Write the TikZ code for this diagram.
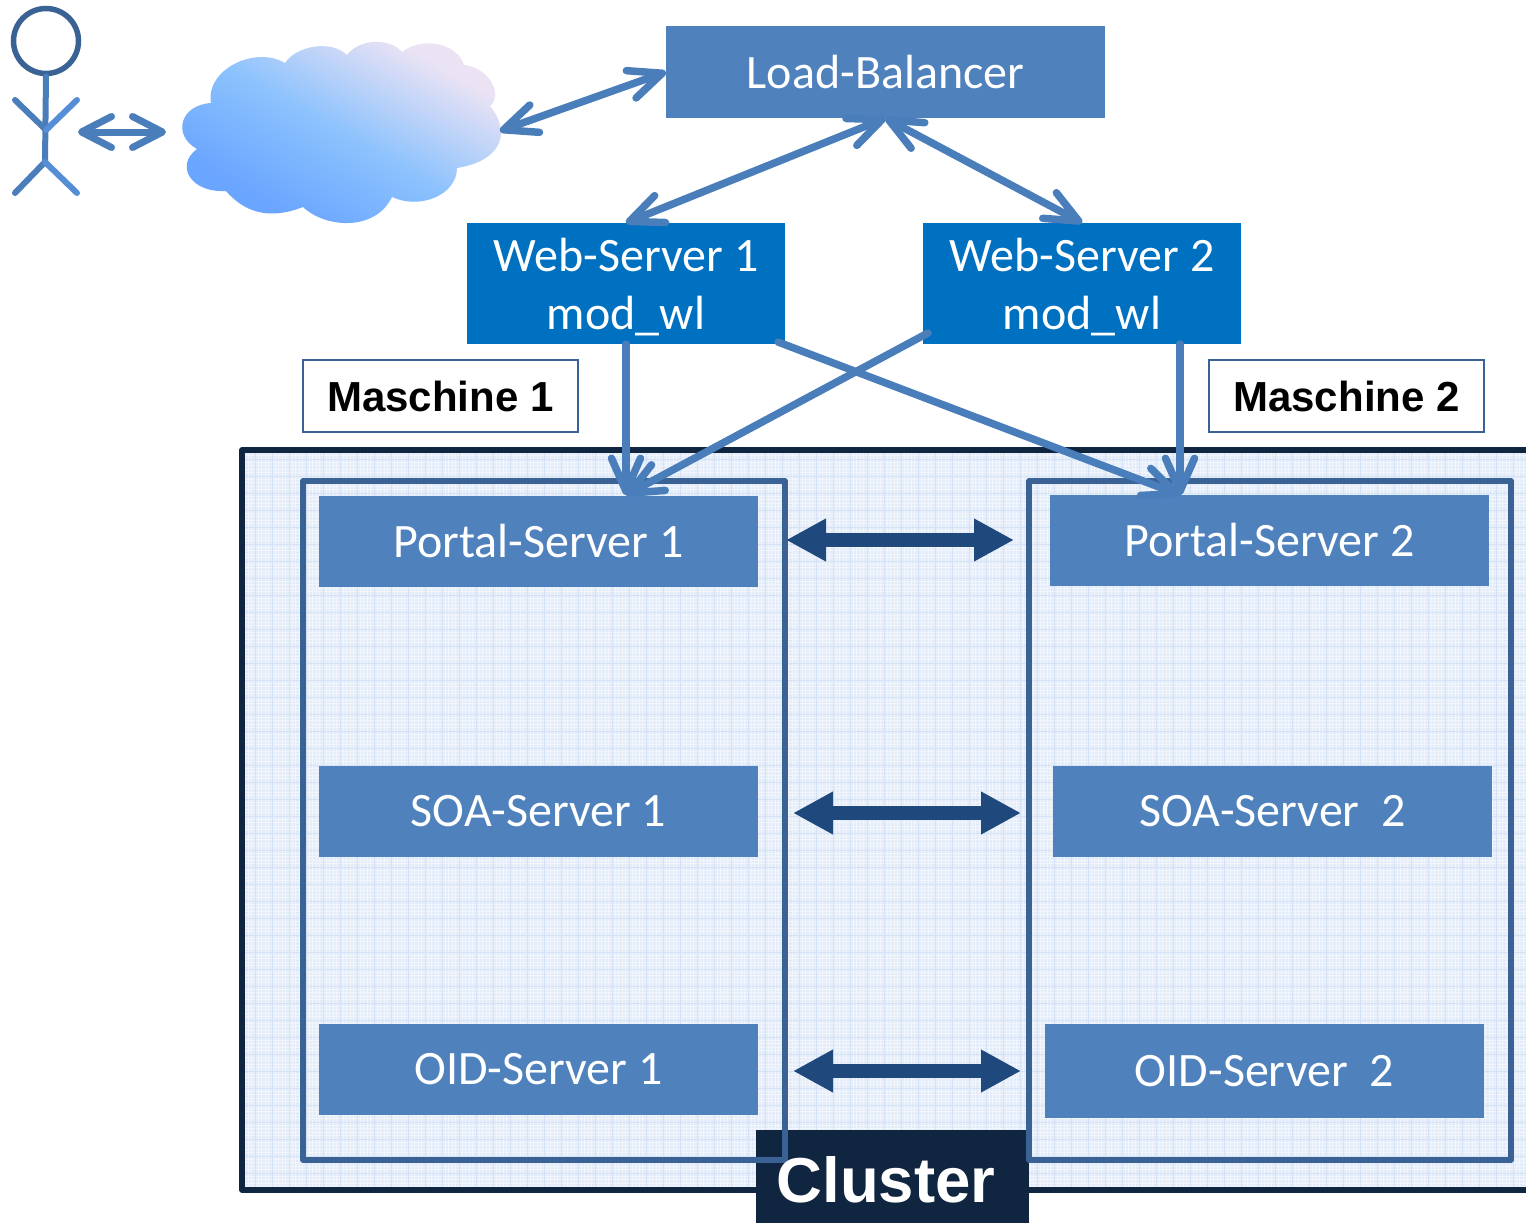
\documentclass[tikz,border=0pt]{standalone}
\usepackage{fontspec}
\setmainfont{Carlito}
\newfontfamily\boldsans{Liberation Sans}
\usetikzlibrary{arrows.meta}
\definecolor{boxblue}{HTML}{4F81BD}
\definecolor{webblue}{HTML}{0070C0}
\definecolor{linkblue}{HTML}{4A7EBB}
\definecolor{framedark}{HTML}{10253F}
\definecolor{machineframe}{HTML}{3A6295}
\definecolor{peerblue}{HTML}{1F497D}
\definecolor{limbblue}{HTML}{558ED5}
\definecolor{clusterbg}{HTML}{E3ECF9}
\definecolor{clustergrid}{HTML}{D6E3F7}
\definecolor{cloudA}{HTML}{6AA5FF}
\definecolor{cloudB}{HTML}{8CC2FD}
\definecolor{cloudC}{HTML}{EBE3F4}
\pgfdeclarehorizontalshading{cloudshade}{100bp}{
  color(0bp)=(cloudA); color(30bp)=(cloudA); color(50bp)=(cloudB); color(72bp)=(cloudC); color(100bp)=(cloudC)}
\tikzset{
  bluebox/.style={draw=none,fill=boxblue,text=white,inner sep=0pt,minimum width=439pt,minimum height=91pt,font=\fontsize{48}{58}\selectfont},
  webbox/.style={draw=none,fill=webblue,text=white,inner sep=0pt,minimum width=318pt,minimum height=121pt,align=center,font=\fontsize{48}{58}\selectfont},
  labelbox/.style={draw=machineframe,line width=1.5pt,fill=white,inner sep=0pt,minimum width=275pt,minimum height=72pt,font=\boldsans\bfseries\fontsize{42}{50}\selectfont},
  machine/.style={draw=machineframe,line width=5.5pt,line join=round},
  link/.style={draw=linkblue,line width=7.5pt,line cap=round},
  both/.style={{Straight Barb[length=33pt,width=29pt,round]}-{Straight Barb[length=33pt,width=29pt,round]}},
  single/.style={-{Straight Barb[length=33pt,width=29pt,round]}},
  peer/.style={draw=peerblue,line width=14pt,{Triangle[length=40pt,width=40pt]}-{Triangle[length=40pt,width=40pt]}},
  limb/.style={line width=6pt,line cap=round},
}
\begin{document}
\begin{tikzpicture}[x=1pt,y=-1pt]
\path[use as bounding box,clip] (0,0) rectangle (1526,1223);
\fill[white] (0,0) rectangle (1526,1223);
% cluster background
\begin{scope}
\clip (242,450) rectangle (1530,1190);
\fill[clusterbg] (242,450) rectangle (1530,1190);
\draw[white,line width=0.7pt,opacity=.55,step=3.4pt] (240,440) grid (1530,1195);
\draw[clustergrid,line width=1pt,step=17pt] (240,440) grid (1530,1195);
\end{scope}
\draw[framedark,line width=5.5pt,line join=round] (1535,450) -- (242,450) -- (242,1190) -- (1535,1190);
\node[fill=framedark,inner sep=0pt,minimum width=273pt,minimum height=93pt] (clusterbox) at (892.5,1176.5) {};
% machines
\draw[machine] (303,481) rectangle (785,1160);
\draw[machine] (1029,481) rectangle (1511,1160);
\node[labelbox] (m1) at (440.5,396) {Maschine 1};
\node[labelbox] (m2) at (1346.5,396) {Maschine 2};
% boxes
\node[bluebox,minimum height=92pt] (lb) at (885.5,72) {Load-Balancer};
\node[webbox] (web1) at (626,283.5) {\rule{0pt}{40pt}Web-Server 1\\mod\_wl};
\node[webbox] (web2) at (1082,283.5) {\rule{0pt}{40pt}Web-Server 2\\mod\_wl};
\node[bluebox] (p1) at (538.5,541.5) {Portal-Server 1};
\node[bluebox] (p2) at (1269.5,540.5) {Portal-Server 2};
\node[bluebox] (s1) at (538.5,811.5) {SOA-Server 1};
\node[bluebox] (s2) at (1272.5,811.5) {SOA-Server\ \ 2};
\node[bluebox] (o1) at (538.5,1069.5) {OID-Server 1};
\node[bluebox,minimum height=94pt] (o2) at (1264.5,1071) {OID-Server\ \ 2};
\node[text=white,inner sep=0pt,font=\boldsans\bfseries\fontsize{63.5}{70}\selectfont] (clustertext) at (886,1180) {Cluster};
% cloud
\shade[shading=cloudshade,shading angle=60]
  (211,103) .. controls (205,70) and (255,45) .. (285,63)
  .. controls (297,45) and (332,40) .. (347,55)
  .. controls (360,38) and (390,38) .. (402,52)
  .. controls (425,35) and (458,45) .. (464,65)
  .. controls (490,68) and (503,95) .. (490,106)
  .. controls (510,130) and (505,160) .. (457,168)
  .. controls (457,195) and (420,210) .. (392,197)
  .. controls (375,232) and (325,228) .. (303,207)
  .. controls (270,220) and (245,213) .. (226,191)
  .. controls (190,193) and (175,165) .. (197,149)
  .. controls (172,135) and (180,105) .. (211,103) -- cycle;
% person
\node[draw=machineframe,line width=5.5pt,circle,inner sep=0pt,minimum size=65pt] (head) at (46,41) {};
\coordinate (shoulder) at (46,130);
\coordinate (hip) at (45,162);
\coordinate (handl) at (15,100);
\coordinate (handr) at (77,100);
\coordinate (footl) at (15,193);
\coordinate (footr) at (77,193);
\draw[limb,linkblue] (head.south) -- (hip);
\draw[limb,linkblue] (shoulder) -- (handl);
\draw[limb,linkblue] (hip) -- (footl);
\draw[limb,limbblue] (shoulder) -- (handr);
\draw[limb,limbblue] (hip) -- (footr);
% connectors
\coordinate (personr) at (78,132);
\coordinate (cloudl) at (166,132);
\coordinate (cloudr) at (500,131);
\coordinate (web1x) at (778,342);
\coordinate (web2x) at (928,333);
\coordinate (web2s) at (1180,344);
\coordinate (p1n) at (626,495);
\coordinate (p2n) at (1180,495);
\draw[link,line width=7pt,{Straight Barb[length=30pt,width=31pt,round]}-{Straight Barb[length=30pt,width=31pt,round]}] (personr) -- (cloudl);
\draw[link,both] (cloudr) -- (lb.west);
\draw[link,both] (lb.south) -- (web1.north);
\draw[link,both] (lb.south) -- (web2.north);
\draw[link,single] (web1.south) -- (p1n);
\draw[link,single] (web2x) -- (p1n);
\draw[link,single] (web1x) -- (p2n);
\draw[link,single] (web2s) -- (p2n);
% peer arrows
\coordinate (pa) at (786,540);
\coordinate (pb) at (1014,540);
\coordinate (sa) at (793,813);
\coordinate (sb) at (1021,813);
\coordinate (oa) at (793,1071);
\coordinate (ob) at (1021,1071);
\draw[peer] (pa) -- (pb);
\draw[peer] (sa) -- (sb);
\draw[peer] (oa) -- (ob);
\end{tikzpicture}
\end{document}
